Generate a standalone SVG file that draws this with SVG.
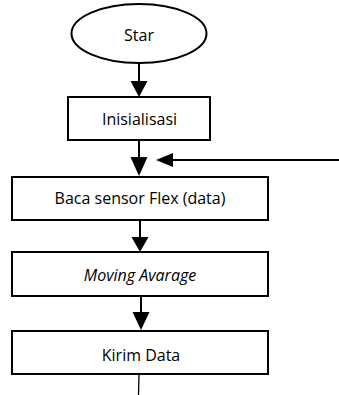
<svg xmlns="http://www.w3.org/2000/svg" width="339" height="395" viewBox="0 0 339 395">
<style>
.shape{fill:#fff;stroke:#000;stroke-width:2}
.lbl{font-family:"Open Sans","Liberation Sans",sans-serif;font-size:16px;fill:#000;text-anchor:middle}
.it{font-style:italic}
.conn{stroke:#000;stroke-width:2;fill:none}
.head{fill:#000;stroke:none}
</style>
<rect width="339" height="395" fill="#fff"/>
<g id="connectors">
<line class="conn" x1="139" y1="63" x2="139" y2="82"/>
<polygon class="head" points="130.5,81 147.5,81 139,97"/>
<line class="conn" x1="139" y1="140" x2="139" y2="158"/>
<polygon class="head" points="130.5,157 147.5,157 139,176"/>
<line class="conn" x1="339" y1="160" x2="171" y2="160"/>
<polygon class="head" points="156,160 173,153 173,167"/>
<line class="conn" x1="140" y1="220" x2="140" y2="238"/>
<polygon class="head" points="131.5,237 148.5,237 140,252"/>
<line class="conn" x1="141" y1="296" x2="141" y2="313"/>
<polygon class="head" points="132.5,312 149.5,312 141,330"/>
<line x1="139" y1="374" x2="138.5" y2="395" stroke="#000" stroke-width="1.3"/>
</g>
<g id="star">
<ellipse class="shape" cx="139" cy="33.5" rx="67.5" ry="29.5"/>
<text class="lbl" x="139" y="41">Star</text>
</g>
<g id="inisialisasi">
<rect class="shape" x="68" y="97" width="142" height="43"/>
<text class="lbl" x="139.5" y="125">Inisialisasi</text>
</g>
<g id="baca">
<rect class="shape" x="12" y="177" width="256" height="43"/>
<text class="lbl" x="140" y="204">Baca sensor Flex (data)</text>
</g>
<g id="moving">
<rect class="shape" x="12" y="252" width="256" height="44"/>
<text class="lbl it" x="140" y="281">Moving Avarage</text>
</g>
<g id="kirim">
<rect class="shape" x="12" y="331" width="256" height="43"/>
<text class="lbl" x="141" y="361">Kirim Data</text>
</g>
</svg>
